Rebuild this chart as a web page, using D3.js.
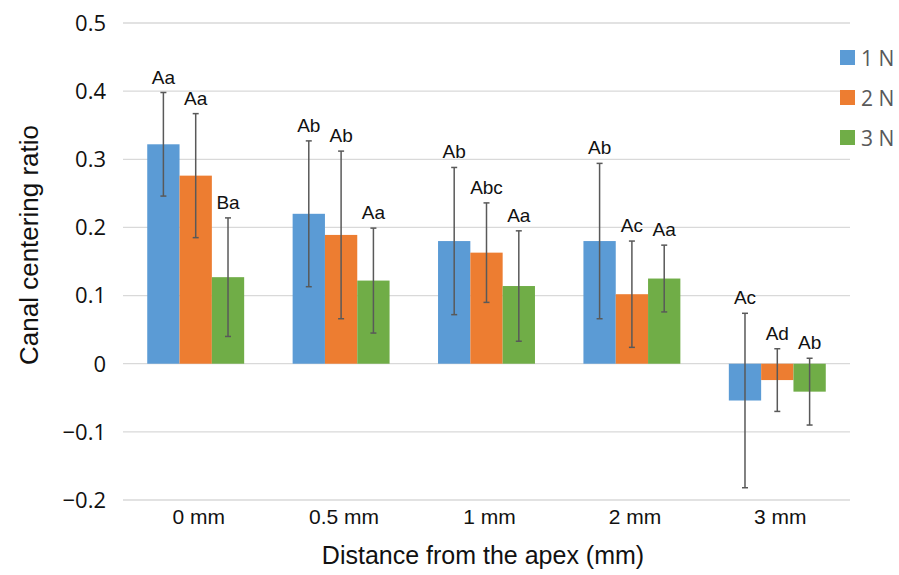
<!DOCTYPE html>
<html>
<head>
<meta charset="utf-8">
<script src="https://cdn.jsdelivr.net/npm/d3@7"></script>
<style>
  body { margin: 0; background: #fff; }
  svg { display: block; }
</style>
</head>
<body>
<script>
// categories and series
var categories = ["0 mm", "0.5 mm", "1 mm", "2 mm", "3 mm"];
var seriesNames = ["1 N", "2 N", "3 N"];
var colors = ["#5B9BD5", "#ED7D31", "#70AD47"];

// mean centering ratio per force
var mean1N = [0.322, 0.220, 0.180, 0.180, -0.054];
var mean2N = [0.276, 0.189, 0.163, 0.102, -0.024];
var mean3N = [0.127, 0.122, 0.114, 0.125, -0.041];

// standard deviations (error bars)
var sd1N = [0.076, 0.107, 0.108, 0.114, 0.128];
var sd2N = [0.091, 0.123, 0.073, 0.078, 0.046];
var sd3N = [0.087, 0.077, 0.081, 0.049, 0.049];

// significance letters
var letters1N = ["Aa", "Ab", "Ab", "Ab", "Ac"];
var letters2N = ["Aa", "Ab", "Abc", "Ac", "Ad"];
var letters3N = ["Ba", "Aa", "Aa", "Aa", "Ab"];

var yTicks = [0.5, 0.4, 0.3, 0.2, 0.1, 0, -0.1, -0.2];

var means = [mean1N, mean2N, mean3N];
var sds = [sd1N, sd2N, sd3N];
var letters = [letters1N, letters2N, letters3N];

var W = 899, H = 575;
var margin = {top: 23, right: 49, bottom: 75, left: 123};
var arial = "'Liberation Sans', Arial, sans-serif";

var svg = d3.select("body").append("svg")
    .attr("width", W)
    .attr("height", H);

var x0 = d3.scaleBand()
    .domain(categories)
    .range([margin.left, W - margin.right])
    .paddingInner(1 / 3)
    .paddingOuter(1 / 6);

var x1 = d3.scaleBand()
    .domain(seriesNames)
    .range([0, x0.bandwidth()]);

var y = d3.scaleLinear()
    .domain([-0.2, 0.5])
    .range([H - margin.bottom, margin.top]);

// gridlines
svg.append("g")
    .selectAll("line")
    .data(yTicks)
  .enter().append("line")
    .attr("x1", margin.left)
    .attr("x2", W - margin.right)
    .attr("y1", function(d) { return y(d); })
    .attr("y2", function(d) { return y(d); })
    .attr("stroke", "#d9d9d9")
    .attr("stroke-width", 1.3);

// y tick labels
var fmt = d3.format(".1f");
svg.append("g")
    .selectAll("text")
    .data(yTicks)
  .enter().append("text")
    .attr("x", 106)
    .attr("y", function(d) { return y(d); })
    .attr("dy", "0.36em")
    .attr("text-anchor", "end")
    .style("font-family", "'Open Sans', sans-serif")
    .style("font-size", "22px")
    .attr("fill", "#111")
    .text(function(d) { return d === 0 ? "0" : fmt(d); });

// flatten data
var rows = [];
seriesNames.forEach(function(s, i) {
  categories.forEach(function(c, j) {
    rows.push({series: s, si: i, cat: c, v: means[i][j], sd: sds[i][j], lab: letters[i][j]});
  });
});

// bars
svg.append("g")
    .selectAll("rect")
    .data(rows)
  .enter().append("rect")
    .attr("x", function(d) { return x0(d.cat) + x1(d.series); })
    .attr("width", x1.bandwidth())
    .attr("y", function(d) { return y(Math.max(0, d.v)); })
    .attr("height", function(d) { return Math.abs(y(d.v) - y(0)); })
    .attr("fill", function(d) { return colors[d.si]; });

// error bars
var eb = svg.append("g")
    .attr("stroke", "#595959")
    .attr("stroke-width", 1.5);
rows.forEach(function(d) {
  var cx = x0(d.cat) + x1(d.series) + x1.bandwidth() / 2;
  eb.append("line").attr("x1", cx).attr("x2", cx)
      .attr("y1", y(d.v + d.sd)).attr("y2", y(d.v - d.sd));
  eb.append("line").attr("x1", cx - 3).attr("x2", cx + 3)
      .attr("y1", y(d.v + d.sd)).attr("y2", y(d.v + d.sd));
  eb.append("line").attr("x1", cx - 3).attr("x2", cx + 3)
      .attr("y1", y(d.v - d.sd)).attr("y2", y(d.v - d.sd));
});

// letter labels
svg.append("g")
    .selectAll("text")
    .data(rows)
  .enter().append("text")
    .attr("x", function(d) { return x0(d.cat) + x1(d.series) + x1.bandwidth() / 2; })
    .attr("y", function(d) { return y(d.v + d.sd) - 9; })
    .attr("text-anchor", "middle")
    .style("font-family", arial)
    .style("font-size", "19px")
    .attr("fill", "#111")
    .text(function(d) { return d.lab; });

// category labels
svg.append("g")
    .selectAll("text")
    .data(categories)
  .enter().append("text")
    .attr("x", function(d) { return x0(d) + x0.bandwidth() / 2 + 3; })
    .attr("y", 524)
    .attr("text-anchor", "middle")
    .style("font-family", arial)
    .style("font-size", "21px")
    .attr("fill", "#111")
    .text(function(d) { return d; });

// axis titles
svg.append("text")
    .attr("x", 483)
    .attr("y", 564)
    .attr("text-anchor", "middle")
    .style("font-family", arial)
    .style("font-size", "25px")
    .attr("fill", "#111")
    .text("Distance from the apex (mm)");

svg.append("text")
    .attr("transform", "translate(38,245) rotate(-90)")
    .attr("text-anchor", "middle")
    .style("font-family", arial)
    .style("font-size", "26px")
    .attr("fill", "#111")
    .text("Canal centering ratio");

// legend
var legend = svg.append("g")
    .selectAll("g")
    .data(seriesNames)
  .enter().append("g")
    .attr("transform", function(d, i) { return "translate(840," + (50 + i * 40) + ")"; });
legend.append("rect")
    .attr("width", 15)
    .attr("height", 15)
    .attr("fill", function(d, i) { return colors[i]; });
legend.append("text")
    .attr("x", 21)
    .attr("y", 15.5)
    .style("font-family", "'Open Sans', sans-serif")
    .style("font-size", "21px")
    .attr("fill", "#595959")
    .text(function(d) { return d; });
</script>
</body>
</html>
